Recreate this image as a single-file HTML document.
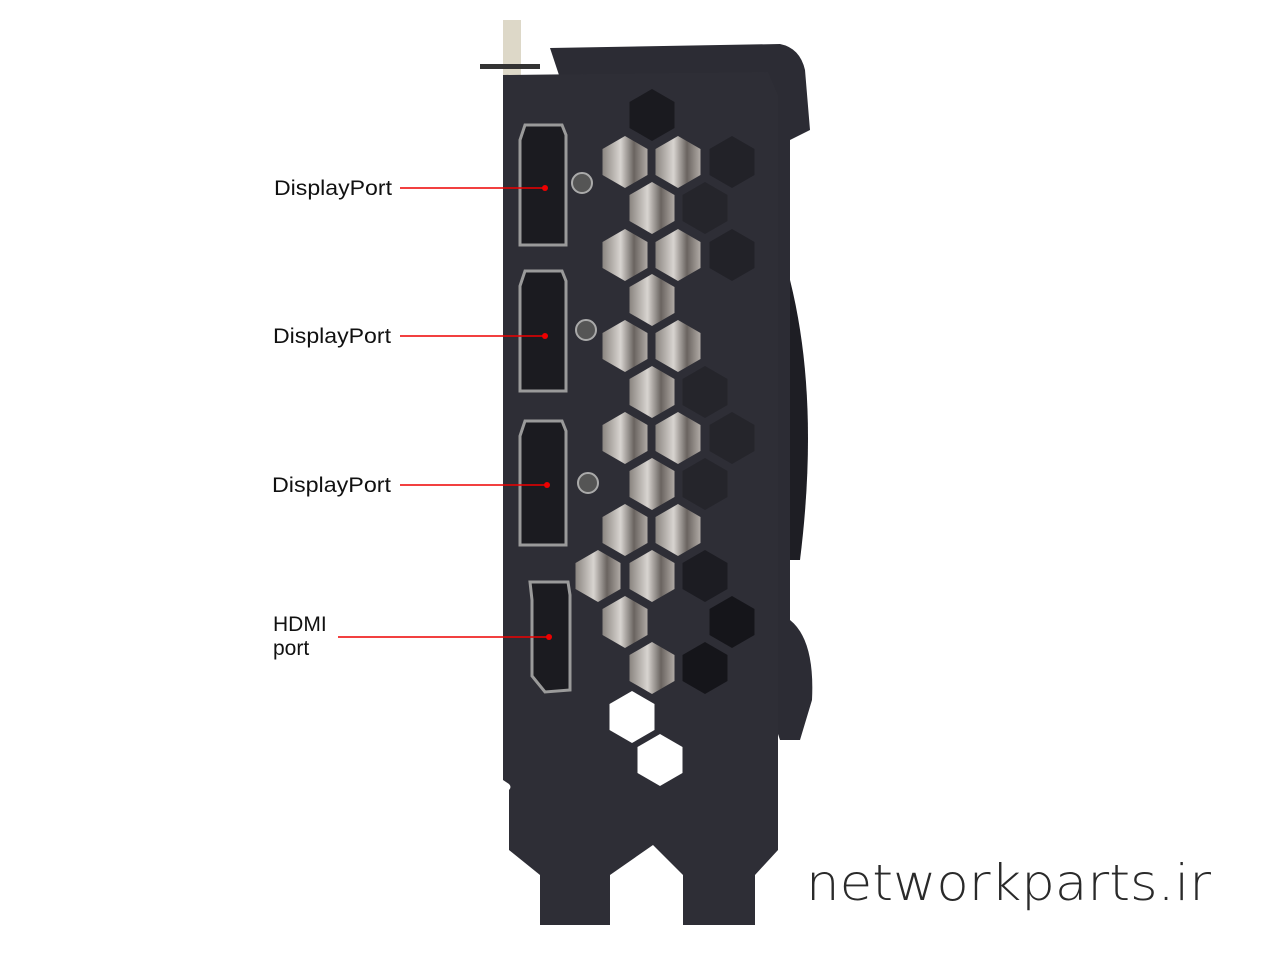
<!DOCTYPE html>
<html><head><meta charset="utf-8"><style>
html,body{margin:0;padding:0;background:#fff;width:1280px;height:960px;overflow:hidden}
svg{display:block}
.l{font-family:"Liberation Sans",sans-serif;font-size:21px;fill:#111}
</style></head><body>
<svg width="1280" height="960" viewBox="0 0 1280 960" xmlns="http://www.w3.org/2000/svg">
<defs>
<polygon id="hx" points="0,-26 22.5,-13 22.5,13 0,26 -22.5,13 -22.5,-13"/>
<linearGradient id="met" x1="0" x2="1"><stop offset="0" stop-color="#8a8580"/><stop offset="0.4" stop-color="#d8d4d0"/><stop offset="0.7" stop-color="#6a6460"/><stop offset="1" stop-color="#b0aaa5"/></linearGradient>
</defs>
<rect x="503" y="20" width="18" height="60" fill="#ddd8c8"/>
<rect x="480" y="64" width="60" height="5" fill="#333"/>
<path d="M550 48 L780 44 Q800 48 805 70 L810 130 L790 140 L790 620 Q815 640 812 700 L800 740 L780 740 Z" fill="#2c2c34"/>
<path d="M790 280 Q820 400 800 560 L790 560 Z" fill="#1e1e24"/>
<path d="M503 75 L768 72 L778 95 L778 850 L755 875 L755 925 L683 925 L683 875 L653 845 L610 875 L610 925 L540 925 L540 875 L509 850 L509 790 Q512 787 509 784 L503 780 Z" fill="#2e2e36"/>
<g>
<use href="#hx" x="652" y="115" fill="#1a1a1f"/>
<use href="#hx" x="625" y="162" fill="url(#met)"/>
<use href="#hx" x="678" y="162" fill="url(#met)"/>
<use href="#hx" x="732" y="162" fill="#222228"/>
<use href="#hx" x="652" y="208" fill="url(#met)"/>
<use href="#hx" x="705" y="208" fill="#25252b"/>
<use href="#hx" x="625" y="255" fill="url(#met)"/>
<use href="#hx" x="678" y="255" fill="url(#met)"/>
<use href="#hx" x="732" y="255" fill="#222228"/>
<use href="#hx" x="652" y="300" fill="url(#met)"/>
<use href="#hx" x="652" y="392" fill="url(#met)"/>
<use href="#hx" x="705" y="392" fill="#25252b"/>
<use href="#hx" x="625" y="346" fill="url(#met)"/>
<use href="#hx" x="678" y="346" fill="url(#met)"/>
<use href="#hx" x="625" y="438" fill="url(#met)"/>
<use href="#hx" x="678" y="438" fill="url(#met)"/>
<use href="#hx" x="732" y="438" fill="#25252b"/>
<use href="#hx" x="652" y="484" fill="url(#met)"/>
<use href="#hx" x="705" y="484" fill="#25252b"/>
<use href="#hx" x="625" y="530" fill="url(#met)"/>
<use href="#hx" x="678" y="530" fill="url(#met)"/>
<use href="#hx" x="598" y="576" fill="url(#met)"/>
<use href="#hx" x="652" y="576" fill="url(#met)"/>
<use href="#hx" x="705" y="576" fill="#1c1c22"/>
<use href="#hx" x="625" y="622" fill="url(#met)"/>
<use href="#hx" x="732" y="622" fill="#15151a"/>
<use href="#hx" x="652" y="668" fill="url(#met)"/>
<use href="#hx" x="705" y="668" fill="#15151a"/>
<use href="#hx" x="632" y="717" fill="#fff"/>
<use href="#hx" x="660" y="760" fill="#fff"/>
</g>
<g fill="#1b1b20" stroke="#9a9a9a" stroke-width="3">
<path d="M525 125 L562 125 L566 135 L566 245 L520 245 L520 140 Z"/>
<path d="M525 271 L562 271 L566 281 L566 391 L520 391 L520 286 Z"/>
<path d="M525 421 L562 421 L566 431 L566 545 L520 545 L520 436 Z"/>
<path d="M530 582 L568 582 L570 595 L570 690 L545 692 L532 676 L532 600 Z"/>
</g>
<g fill="#555" stroke="#aaa" stroke-width="2">
<circle cx="582" cy="183" r="10"/><circle cx="586" cy="330" r="10"/><circle cx="588" cy="483" r="10"/>
</g>
<text class="l" x="274" y="195" textLength="118" lengthAdjust="spacingAndGlyphs">DisplayPort</text>
<text class="l" x="273" y="343" textLength="118" lengthAdjust="spacingAndGlyphs">DisplayPort</text>
<text class="l" x="272" y="492" textLength="119" lengthAdjust="spacingAndGlyphs">DisplayPort</text>
<text class="l" x="273" y="631">HDMI</text>
<text class="l" x="273" y="655">port</text>
<g stroke="#e00" stroke-width="1.6">
<line x1="400" y1="188" x2="545" y2="188"/>
<line x1="400" y1="336" x2="545" y2="336"/>
<line x1="400" y1="485" x2="547" y2="485"/>
<line x1="338" y1="637" x2="549" y2="637"/>
</g>
<g fill="#e00"><circle cx="545" cy="188" r="3"/><circle cx="545" cy="336" r="3"/><circle cx="547" cy="485" r="3"/><circle cx="549" cy="637" r="3"/></g>
<text x="806" y="900" font-family="'DejaVu Sans','Liberation Sans',sans-serif" font-size="50" font-weight="200" fill="#2a2a2a" textLength="405" lengthAdjust="spacingAndGlyphs">networkparts.ir</text>
</svg>
</body></html>
